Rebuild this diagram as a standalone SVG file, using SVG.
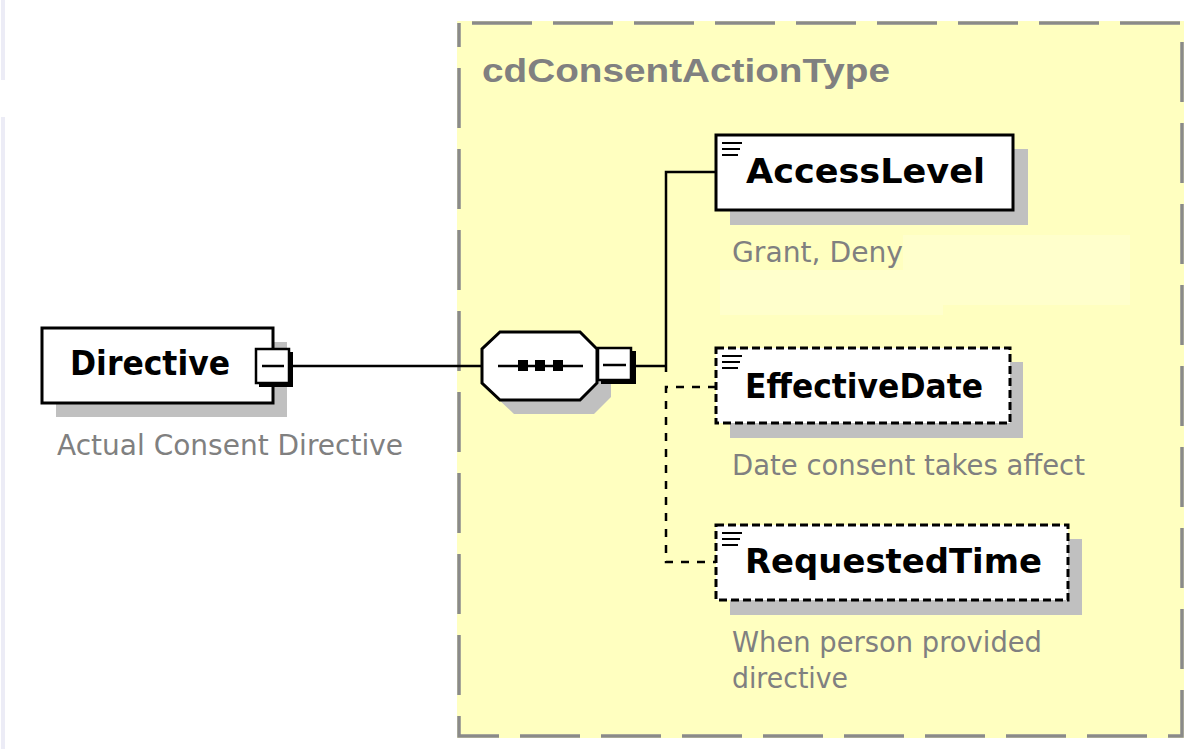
<svg xmlns="http://www.w3.org/2000/svg" width="1184" height="749" viewBox="0 0 1184 749">
<style>
.name{font-family:"DejaVu Sans","Verdana",sans-serif;font-weight:bold;font-size:34px;fill:#000}
.desc{font-family:"DejaVu Sans","Verdana",sans-serif;font-size:28px;fill:#808080}
.title{font-family:"Liberation Sans","Arial",sans-serif;font-weight:bold;font-size:34px;fill:#808080}
.box{fill:#fff;stroke:#000;stroke-width:3}
.opt{fill:#fff;stroke:#000;stroke-width:3;stroke-dasharray:8 4}
.shadow{fill:#c0c0c0}
.conn{fill:none;stroke:#000;stroke-width:2.5}
.dconn{fill:none;stroke:#000;stroke-width:2.5;stroke-dasharray:8 8}
.icon{stroke:#000;stroke-width:2}
</style>
<rect x="0" y="0" width="1184" height="749" fill="#fff"/>
<rect x="1" y="0" width="4" height="80" fill="#ececf6"/>
<rect x="1" y="117" width="4" height="632" fill="#ececf6"/>

<g id="container">
  <rect x="457" y="21" width="727" height="717" fill="#ffffc0"/>
  <path d="M903 235 H1130 V305 H943 V315 H720 V270 H903 Z" fill="#ffffcc"/>
  <rect x="459" y="23" width="723" height="713" fill="none" stroke="#8a8a8a" stroke-width="3.5" stroke-dasharray="60 21" stroke-dashoffset="68"/>
  <text class="title" x="482" y="82" textLength="408" lengthAdjust="spacingAndGlyphs">cdConsentActionType</text>
</g>

<g id="connectors">
  <line class="conn" x1="293" y1="366" x2="482" y2="366"/>
  <line class="conn" x1="635" y1="366" x2="666" y2="366"/>
  <polyline class="conn" points="666,372 666,172 716,172"/>
  <polyline class="dconn" points="716,387 666,387 666,562 716,562"/>
</g>

<g id="Directive">
  <rect class="shadow" x="56" y="342" width="231" height="75"/>
  <rect class="box" x="42" y="328" width="231" height="75"/>
  <text class="name" x="70" y="375" textLength="160" lengthAdjust="spacingAndGlyphs">Directive</text>
  <text class="desc" x="57" y="455" textLength="346" lengthAdjust="spacingAndGlyphs">Actual Consent Directive</text>
  <rect x="259" y="352" width="34" height="35" fill="#000"/>
  <rect x="256" y="349" width="33" height="34" fill="#fff" stroke="#000" stroke-width="2.5"/>
  <line x1="262" y1="366" x2="284" y2="366" stroke="#000" stroke-width="2.5"/>
</g>

<g id="sequence">
  <polygon class="shadow" points="514,346 594,346 611,363 611,397 594,414 514,414 496,397 496,363"/>
  <polygon fill="#fff" stroke="#000" stroke-width="3" points="500,332 580,332 597,349 597,383 580,400 500,400 482,383 482,349"/>
  <line x1="498" y1="366" x2="583" y2="366" stroke="#000" stroke-width="2.5"/>
  <rect x="518" y="360" width="10" height="11" fill="#000"/>
  <rect x="535" y="360" width="10" height="11" fill="#000"/>
  <rect x="553" y="360" width="10" height="11" fill="#000"/>
  <rect x="601" y="351" width="35" height="33" fill="#000"/>
  <rect x="598" y="348" width="33" height="32" fill="#fff" stroke="#000" stroke-width="2.5"/>
  <line x1="603" y1="365" x2="626" y2="365" stroke="#000" stroke-width="2.5"/>
</g>

<g id="AccessLevel">
  <rect class="shadow" x="730" y="149" width="298" height="76"/>
  <rect class="box" x="716" y="135" width="297" height="75"/>
  <line class="icon" x1="722" y1="143" x2="742" y2="143"/>
  <line class="icon" x1="722" y1="149" x2="740" y2="149"/>
  <line class="icon" x1="722" y1="155" x2="738" y2="155"/>
  <text class="name" x="746" y="183" textLength="239" lengthAdjust="spacingAndGlyphs">AccessLevel</text>
  <text class="desc" x="732" y="262" textLength="171" lengthAdjust="spacingAndGlyphs">Grant, Deny</text>
</g>

<g id="EffectiveDate">
  <rect class="shadow" x="730" y="362" width="293" height="76"/>
  <rect class="opt" x="716" y="348" width="294" height="75"/>
  <line class="icon" x1="722" y1="356" x2="742" y2="356"/>
  <line class="icon" x1="722" y1="362" x2="740" y2="362"/>
  <line class="icon" x1="722" y1="368" x2="738" y2="368"/>
  <text class="name" x="745" y="398" textLength="238" lengthAdjust="spacingAndGlyphs">EffectiveDate</text>
  <text class="desc" x="732" y="475" textLength="353" lengthAdjust="spacingAndGlyphs">Date consent takes affect</text>
</g>

<g id="RequestedTime">
  <rect class="shadow" x="730" y="539" width="352" height="76"/>
  <rect class="opt" x="716" y="525" width="352" height="75"/>
  <line class="icon" x1="722" y1="533" x2="742" y2="533"/>
  <line class="icon" x1="722" y1="539" x2="740" y2="539"/>
  <line class="icon" x1="722" y1="545" x2="738" y2="545"/>
  <text class="name" x="745" y="573" textLength="297" lengthAdjust="spacingAndGlyphs">RequestedTime</text>
  <text class="desc" x="732" y="652" textLength="310" lengthAdjust="spacingAndGlyphs">When person provided</text>
  <text class="desc" x="732" y="688" textLength="116" lengthAdjust="spacingAndGlyphs">directive</text>
</g>
</svg>
